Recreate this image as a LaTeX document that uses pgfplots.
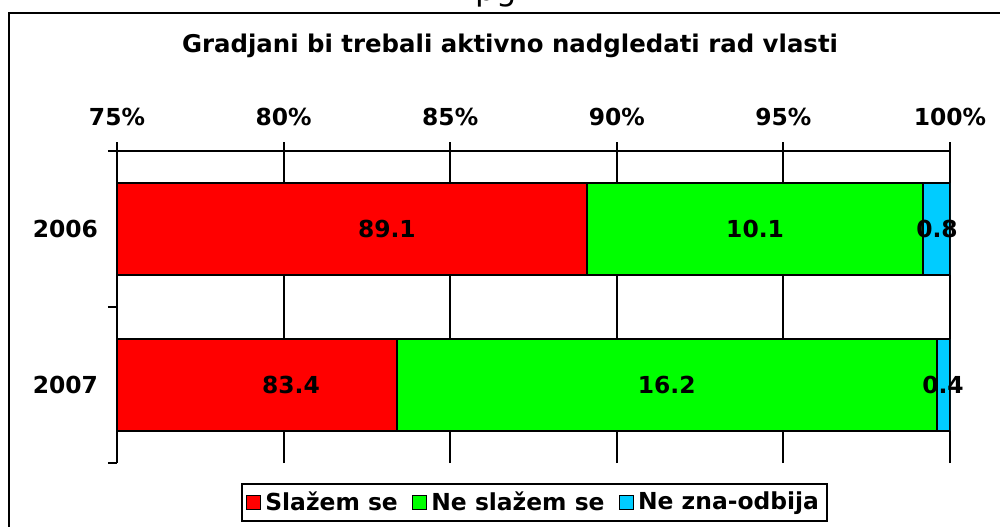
\documentclass[border=0pt]{standalone}
\usepackage{pgfplots}
\pgfplotsset{compat=1.18}
\usepackage{fontspec}
\setmainfont{DejaVu Sans}
\definecolor{cRed}{RGB}{255,0,0}
\definecolor{cGreen}{RGB}{0,255,0}
\definecolor{cBlue}{RGB}{0,204,255}
\newcommand{\lblfont}{\bfseries\fontsize{11.7bp}{14bp}\selectfont}

\begin{document}
\begin{tikzpicture}
\useasboundingbox (0,0) rectangle (500bp,-263.5bp);
\clip (0,0) rectangle (500bp,-263.5bp);
% cut-off text above the chart
\node[anchor=base, font=\fontsize{16bp}{18bp}\selectfont, inner sep=0pt] at (248bp,0bp) {pg};
% chart frame
\draw[line width=1bp] (4.5bp,-6.5bp) rectangle (520bp,-290bp);
\node[font=\bfseries\fontsize{12.2bp}{15bp}\selectfont] at (255bp,-23bp)
  {Gradjani bi trebali aktivno nadgledati rad vlasti};
\begin{axis}[
  at={(58.5bp,-75.5bp)}, anchor=north west,
  scale only axis, width=416.5bp, height=156bp,
  xbar stacked, bar width=0.59,
  xmin=75, xmax=100, ymin=-0.5, ymax=1.5,
  axis x line=top, axis y line=left,
  axis line style={-, line width=1bp},
  xtick={75,80,...,100},
  xticklabel={\pgfmathprintnumber{\tick}\%},
  /pgf/number format/assume math mode=true,
  xmajorgrids, grid style={black, line width=1bp},
  ytick={-0.5,0.5,1.5}, yticklabels={},
  extra y ticks={0,1}, extra y tick labels={2007,2006},
  extra y tick style={major tick length=0pt, yticklabel style={xshift=-6bp}},
  tick align=outside, major tick length=4.5bp,
  tick style={black, line width=1bp},
  tick label style={font=\lblfont},
  xticklabel style={yshift=4.6bp},
  legend columns=3,
  legend style={at={(0.501,-0.1266)}, anchor=center, draw=black, line width=1bp,
    font=\lblfont, inner xsep=2bp, inner ysep=2bp,
    /tikz/every even column/.append style={column sep=5bp}},
  legend image code/.code={\draw[#1, line width=0.8bp] (0bp,-3.5bp) rectangle (7bp,3.5bp);},
]
\addplot[fill=cRed, draw=black, line width=1bp] coordinates {(89.1,1) (83.4,0)};
\addlegendentry{Slažem se}
\addplot[fill=cGreen, draw=black, line width=1bp] coordinates {(10.1,1) (16.2,0)};
\addlegendentry{Ne slažem se}
\addplot[fill=cBlue, draw=black, line width=1bp] coordinates {(0.8,1) (0.4,0)};
\addlegendentry{Ne zna-odbija}
\coordinate (a1) at (axis cs:83.10,1);
\coordinate (a2) at (axis cs:94.15,1);
\coordinate (a3) at (axis cs:99.61,1);
\coordinate (b1) at (axis cs:80.22,0);
\coordinate (b2) at (axis cs:91.50,0);
\coordinate (b3) at (axis cs:99.79,0);
\end{axis}
% value labels on top of the bars
\node[font=\lblfont] at (a1) {89.1};
\node[font=\lblfont] at (a2) {10.1};
\node[font=\lblfont] at (a3) {0.8};
\node[font=\lblfont] at (b1) {83.4};
\node[font=\lblfont] at (b2) {16.2};
\node[font=\lblfont] at (b3) {0.4};
\end{tikzpicture}
\end{document}
